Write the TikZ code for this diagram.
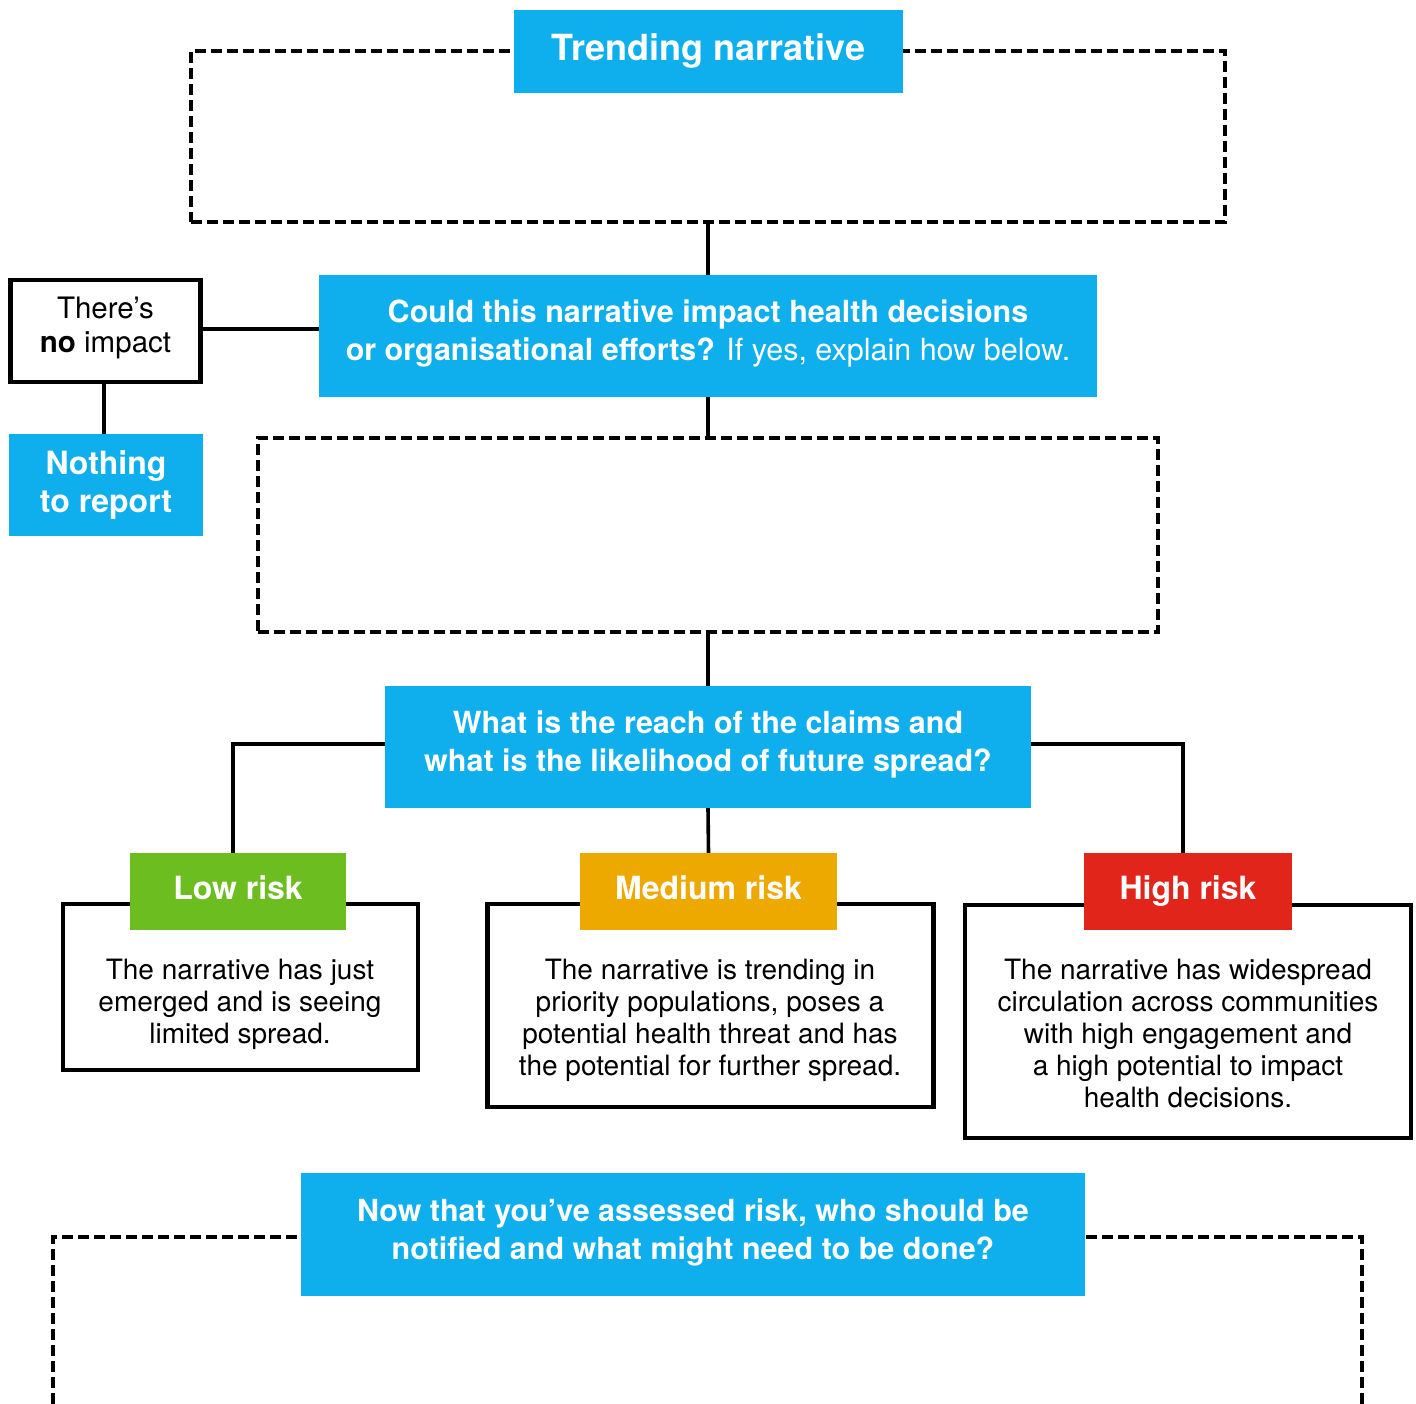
\documentclass[tikz,border=0pt]{standalone}
\usepackage{fontspec}
\setmainfont{TeX Gyre Heros}
\definecolor{qblue}{HTML}{0FAEEC}
\definecolor{lowgreen}{HTML}{6CBD20}
\definecolor{medorange}{HTML}{EDA900}
\definecolor{highred}{HTML}{E1251B}
\begin{document}
\begin{tikzpicture}[x=1pt,y=-1pt,
  bluebox/.style={fill=qblue, inner sep=0pt},
  bluetext/.style={text=white, inner sep=0pt, align=center,
    font=\bfseries\fontsize{30.5}{38}\selectfont},
  dashbox/.style={draw, line width=4.3pt, dash pattern=on 11pt off 5pt, inner sep=0pt},
  dashline/.style={line width=4.3pt, dash pattern=on 11pt off 5pt},
  whitebox/.style={draw, fill=white, line width=4.3pt, inner sep=0pt},
  risklabel/.style={text=white, inner sep=0pt, text height=23pt, text depth=7pt,
    font=\bfseries\fontsize{32}{38}\selectfont},
  bodytext/.style={align=center, inner sep=0pt, font=\fontsize{28}{32}\selectfont},
  conn/.style={line width=3.6pt}]
\useasboundingbox (0,0) rectangle (1416,1404);

% dashed areas
\node[dashbox, minimum width=1034pt, minimum height=171pt] (dash1) at (708,136.5) {};
\node[dashbox, minimum width=900pt, minimum height=194pt] (dash2) at (708,535) {};
\draw[dashline] (53,1420) -- (53,1237) -- (1362,1237) -- (1362,1420);

% blue boxes
\node[bluebox, minimum width=389pt, minimum height=83pt] (title) at (708.5,51.5) {};
\node[bluetext, font=\bfseries\fontsize{36}{40}\selectfont] (titletext) at (708.5,51.5) {Trending narrative};

\node[bluebox, minimum width=778pt, minimum height=122pt] (q1) at (708,336) {};
\node[bluetext] (q1text) at (708,333)
  {Could this narrative impact health decisions\\
   or organisational efforts? \mdseries If yes, explain how below.};

\node[bluebox, minimum width=646pt, minimum height=122pt] (q2) at (708,747) {};
\node[bluetext] (q2text) at (708,744)
  {What is the reach of the claims and\\what is the likelihood of future spread?};

\node[bluebox, minimum width=784pt, minimum height=123pt] (q3) at (693,1234.5) {};
\node[bluetext] (q3text) at (693,1232.5)
  {Now that you’ve assessed risk, who should be\\notified and what might need to be done?};

% no impact branch
\node[whitebox, minimum width=190pt, minimum height=102pt] (noimpact) at (105.5,331) {};
\node[align=center, inner sep=0pt, font=\fontsize{29.5}{34}\selectfont] (noimpacttext) at (105.5,328)
  {There’s\\\textbf{no} impact};
\node[bluebox, minimum width=194pt, minimum height=102pt] (nothing) at (106,485) {};
\node[bluetext, font=\bfseries\fontsize{32}{38}\selectfont] (nothingtext) at (106,485)
  {Nothing\\to report};

% risk boxes
\node[whitebox, minimum width=355pt, minimum height=166pt] (lowbox) at (240.5,987) {};
\node[whitebox, minimum width=446pt, minimum height=203pt] (medbox) at (710.5,1005.5) {};
\node[whitebox, minimum width=446pt, minimum height=233pt] (highbox) at (1188,1021.5) {};

\node[risklabel, fill=lowgreen, minimum width=216pt, minimum height=77pt] (lowlab) at (238,891.5) {Low risk};
\node[risklabel, fill=medorange, minimum width=257pt, minimum height=77pt] (medlab) at (708.5,891.5) {Medium risk};
\node[risklabel, fill=highred, minimum width=208pt, minimum height=77pt] (highlab) at (1188,891.5) {High risk};

\node[bodytext] (lowtext) at (240,1004) {The narrative has just\\emerged and is seeing\\limited spread.};
\node[bodytext] (medtext) at (710,1020) {The narrative is trending in\\priority populations, poses a\\potential health threat and has\\the potential for further spread.};
\node[bodytext] (hightext) at (1188,1033) {The narrative has widespread\\circulation across communities\\with high engagement and\\a high potential to impact\\health decisions.};

% connectors
\draw[conn] (dash1.south) -- (q1.north);
\draw[conn] ([yshift=2pt]noimpact.east) -- ([yshift=2pt]noimpact.east -| q1.west);
\draw[conn] ([xshift=-1.5pt]noimpact.south) -- ([xshift=-1.5pt]noimpact.south |- nothing.north);
\draw[conn] (q1.south) -- (dash2.north);
\draw[conn] (dash2.south) -- (q2.north);
\draw[conn] ([yshift=3pt]q2.west) -| ([xshift=-5pt]lowlab.north);
\draw[conn] ([yshift=3pt]q2.east) -| ([xshift=-5pt]highlab.north);
\draw[conn] (q2.south) -- (medlab.north);
\end{tikzpicture}
\end{document}
